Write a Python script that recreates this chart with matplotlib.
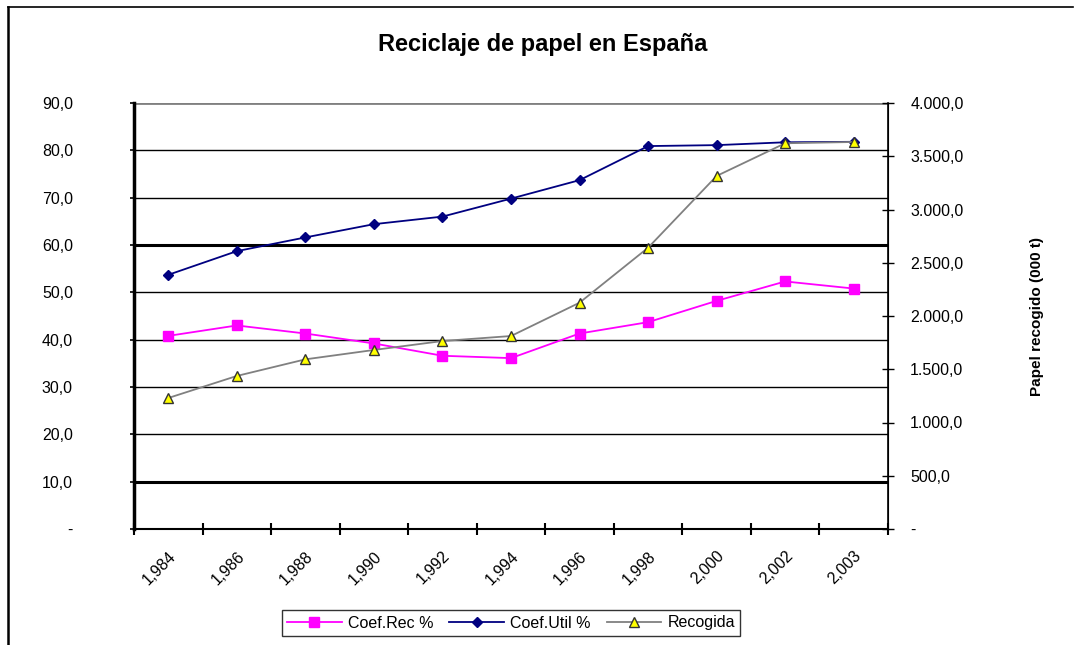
import matplotlib
matplotlib.use("Agg")
import matplotlib.pyplot as plt
import matplotlib.transforms as mtransforms
from matplotlib.lines import Line2D
from matplotlib.ticker import FixedLocator, FuncFormatter

plt.rcParams['font.family'] = ['Liberation Sans', 'DejaVu Sans']

years = [1984, 1986, 1988, 1990, 1992, 1994, 1996, 1998, 2000, 2002, 2003]
coef_rec = [40.8, 43.0, 41.3, 39.2, 36.6, 36.1, 41.3, 43.7, 48.2, 52.3, 50.8]
coef_util = [53.7, 58.7, 61.6, 64.4, 66.0, 69.8, 73.7, 80.9, 81.1, 81.7, 81.8]
recogida = [1230, 1437, 1593, 1681, 1765, 1812, 2125, 2641, 3315, 3622, 3634]
left_ticks = [0, 10, 20, 30, 40, 50, 60, 70, 80, 90]
right_ticks = [0, 500, 1000, 1500, 2000, 2500, 3000, 3500, 4000]

W, H = 1074, 645
fig = plt.figure(figsize=(W / 100, H / 100), dpi=100)
ax = fig.add_axes([134 / W, 1 - 529 / H, (888 - 134) / W, (529 - 103) / H])
ax2 = ax.twinx()

x = list(range(len(years)))
ax.set_xlim(-0.5, len(years) - 0.5)
ax.set_ylim(0, 90)
ax2.set_ylim(0, 4000)

# grid lines
ax.set_yticks(left_ticks)
ax.yaxis.grid(True, color='black', linewidth=1.0)
ax.set_axisbelow(True)
for val, gl in zip(left_ticks, ax.get_ygridlines()):
    if val in (10, 60):
        gl.set_linewidth(2.2)
    if val == 90:
        gl.set_color('#808080')
        gl.set_linewidth(2.0)

l1, = ax.plot(x, coef_rec, color='#FF00FF', lw=1.3, marker='s', markersize=7,
              markeredgecolor='#FF00FF', label='Coef.Rec %', zorder=3)
l2, = ax.plot(x, coef_util, color='#000080', lw=1.3, marker='D', markersize=5.5,
              markeredgecolor='#000080', label='Coef.Util %', zorder=3)
l3, = ax2.plot(x, recogida, color='#808080', lw=1.3, marker='^', markersize=7,
               markerfacecolor='#FFFF00', markeredgecolor='#333333', markeredgewidth=1.0,
               label='Recogida', zorder=3)

# x axis
ax.set_xticks(x)
ax.set_xticklabels([f"{y // 1000},{y % 1000:03d}" for y in years], rotation=45,
                   ha='right', va='top', rotation_mode='anchor', fontsize=11.5)
shift = mtransforms.ScaledTranslation(-5 / 100, 0, fig.dpi_scale_trans)
for lab in ax.get_xticklabels():
    lab.set_transform(lab.get_transform() + shift)
ax.xaxis.set_minor_locator(FixedLocator([i - 0.5 for i in range(len(years) + 1)]))
ax.tick_params(axis='x', which='major', length=0, pad=14)
ax.tick_params(axis='x', which='minor', direction='inout', length=9, width=1.5, color='black')

# left y axis
def lfmt(v, pos):
    return '-' if v == 0 else f"{v:.1f}".replace('.', ',')
ax.yaxis.set_major_formatter(FuncFormatter(lfmt))
ax.tick_params(axis='y', direction='out', length=3, width=1.2, pad=41, labelsize=11.5)

# right y axis
def rfmt(v, pos):
    if v == 0:
        return '-'
    s = f"{v:,.1f}"
    return s.replace(',', 'X').replace('.', ',').replace('X', '.')
ax2.set_yticks(right_ticks)
ax2.yaxis.set_major_formatter(FuncFormatter(rfmt))
ax2.tick_params(axis='y', direction='inout', length=8, width=1.0, pad=12, labelsize=11.5)
ax2.set_ylabel('Papel recogido (000 t)', fontsize=11, fontweight='bold', labelpad=48)

for a in (ax, ax2):
    a.spines['top'].set_visible(False)
ax.spines['left'].set_linewidth(2.5)
ax.spines['bottom'].set_linewidth(1.5)
ax2.spines['left'].set_visible(False)
ax2.spines['bottom'].set_visible(False)
ax2.spines['right'].set_linewidth(1.2)

fig.text(543 / W, 1 - 44 / H, 'Reciclaje de papel en España', ha='center', va='center',
         fontsize=17, fontweight='bold')

leg = fig.legend(handles=[l1, l2, l3], loc='center', ncol=3,
                 bbox_to_anchor=(511 / W, 1 - 623 / H), fontsize=11.5, frameon=True,
                 fancybox=False, edgecolor='black', handlelength=3.4, columnspacing=1.0,
                 handletextpad=0.4, borderpad=0.35)
leg.get_frame().set_linewidth(1.0)

# outer frame lines
fig.add_artist(Line2D([8 / W, 8 / W], [1 - 7 / H, 0], transform=fig.transFigure,
                      color='black', lw=1.8))
fig.add_artist(Line2D([8 / W, 1073 / W], [1 - 7 / H, 1 - 7 / H], transform=fig.transFigure,
                      color='black', lw=1.2))

fig.savefig('out.png', dpi=100)
